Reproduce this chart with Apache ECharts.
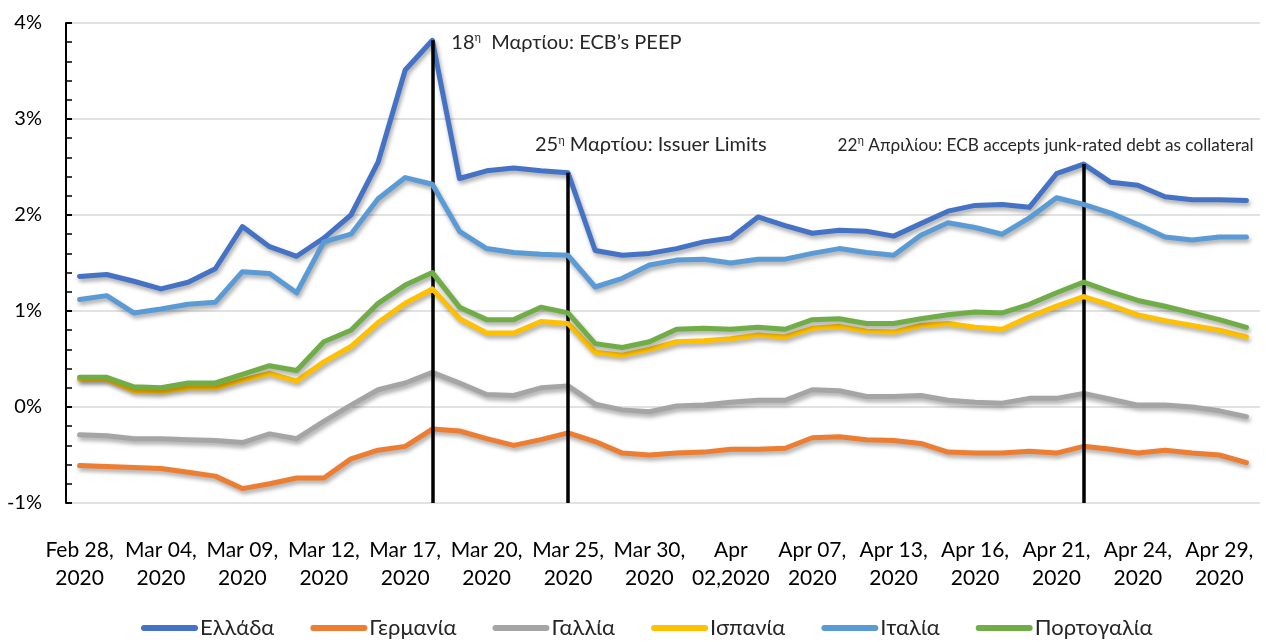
<!DOCTYPE html>
<html>
<head>
<meta charset="utf-8">
<script src="https://cdn.jsdelivr.net/npm/echarts@6/dist/echarts.min.js"></script>
<style>
html,body{margin:0;padding:0;background:#fff;}
#chart{width:1266px;height:642px;}
</style>
</head>
<body>
<div id="chart"></div>
<script>
// ---- DATA ----
const categories = [
  "Feb 28,\n2020",
  "Mar 02,\n2020","Mar 03,\n2020","Mar 04,\n2020","Mar 05,\n2020","Mar 06,\n2020",
  "Mar 09,\n2020","Mar 10,\n2020","Mar 11,\n2020","Mar 12,\n2020","Mar 13,\n2020",
  "Mar 16,\n2020","Mar 17,\n2020","Mar 18,\n2020","Mar 19,\n2020","Mar 20,\n2020",
  "Mar 23,\n2020","Mar 24,\n2020","Mar 25,\n2020","Mar 26,\n2020","Mar 27,\n2020",
  "Mar 30,\n2020","Mar 31,\n2020","Apr 01,\n2020","Apr\n02,2020","Apr 03,\n2020",
  "Apr 06,\n2020","Apr 07,\n2020","Apr 08,\n2020","Apr 09,\n2020",
  "Apr 13,\n2020","Apr 14,\n2020","Apr 15,\n2020","Apr 16,\n2020","Apr 17,\n2020",
  "Apr 20,\n2020","Apr 21,\n2020","Apr 22,\n2020","Apr 23,\n2020","Apr 24,\n2020",
  "Apr 27,\n2020","Apr 28,\n2020","Apr 29,\n2020","Apr 30,\n2020"
];
const seriesNames = ["Ελλάδα","Γερμανία","Γαλλία","Ισπανία","Ιταλία","Πορτογαλία"];
const greece = [1.36,1.38,1.31,1.23,1.30,1.44,1.88,1.67,1.57,1.76,2.00,2.55,3.51,3.82,2.38,2.46,2.49,2.46,2.44,1.63,1.58,1.60,1.65,1.72,1.76,1.98,1.89,1.81,1.84,1.83,1.78,1.91,2.04,2.10,2.11,2.08,2.43,2.53,2.34,2.31,2.19,2.16,2.16,2.15];
const germany = [-0.61,-0.62,-0.63,-0.64,-0.68,-0.72,-0.85,-0.80,-0.74,-0.74,-0.54,-0.45,-0.41,-0.23,-0.25,-0.33,-0.40,-0.34,-0.27,-0.36,-0.48,-0.50,-0.48,-0.47,-0.44,-0.44,-0.43,-0.32,-0.31,-0.34,-0.35,-0.38,-0.47,-0.48,-0.48,-0.46,-0.48,-0.41,-0.44,-0.48,-0.45,-0.48,-0.50,-0.58];
const france = [-0.29,-0.30,-0.33,-0.33,-0.34,-0.35,-0.37,-0.28,-0.33,-0.15,0.02,0.18,0.25,0.36,0.25,0.13,0.12,0.20,0.22,0.03,-0.03,-0.05,0.01,0.02,0.05,0.07,0.07,0.18,0.17,0.11,0.11,0.12,0.07,0.05,0.04,0.09,0.09,0.14,0.08,0.02,0.02,0.00,-0.04,-0.10];
const spain = [0.29,0.29,0.17,0.16,0.20,0.20,0.28,0.35,0.27,0.47,0.63,0.88,1.08,1.23,0.92,0.77,0.77,0.89,0.87,0.57,0.54,0.60,0.68,0.69,0.71,0.75,0.73,0.82,0.84,0.79,0.78,0.85,0.87,0.83,0.81,0.94,1.05,1.15,1.06,0.96,0.90,0.85,0.80,0.73];
const italy = [1.12,1.16,0.98,1.02,1.07,1.09,1.41,1.39,1.19,1.72,1.80,2.17,2.39,2.32,1.83,1.65,1.61,1.59,1.58,1.25,1.34,1.48,1.53,1.54,1.50,1.54,1.54,1.60,1.65,1.61,1.58,1.79,1.92,1.87,1.80,1.97,2.18,2.11,2.02,1.90,1.77,1.74,1.77,1.77];
const portugal = [0.31,0.31,0.21,0.20,0.25,0.25,0.34,0.43,0.38,0.68,0.80,1.08,1.27,1.40,1.04,0.91,0.91,1.04,0.98,0.66,0.62,0.68,0.81,0.82,0.81,0.83,0.81,0.91,0.92,0.87,0.87,0.92,0.96,0.99,0.98,1.07,1.19,1.30,1.20,1.11,1.05,0.98,0.91,0.83];
const yTicks = {min: -1, max: 4, interval: 1};
// event markers: category, day number, rest of text
const eventCats = ["Mar 18,\n2020","Mar 25,\n2020","Apr 22,\n2020"];
const eventDay = ["18","25","22"];
const eventText = ["  Μαρτίου: ECB’s PEEP"," Μαρτίου: Issuer Limits"," Απριλίου: ECB accepts junk-rated debt as collateral"];

// ---- STYLE ----
const colors = ["#4472C4","#ED7D31","#A5A5A5","#FFC000","#5B9BD5","#70AD47"];
const FONT = 'Lato, "Noto Sans", sans-serif';
const labelOffsets = [[19, 2], [-33, -28], [-246, -19]];
const labelFont = [20, 20, 17.2];

const chart = echarts.init(document.getElementById('chart'), null, {renderer: 'canvas'});
const allData = [greece, germany, france, spain, italy, portugal];

const eventIdx = eventCats.map(c => categories.indexOf(c));
const markLineData = eventIdx.map(i => [
  {coord: [i, greece[i]]},
  {coord: [i, yTicks.min]}
]);
const markPointData = eventIdx.map((i, k) => ({
  coord: [i, greece[i]],
  symbol: 'circle', symbolSize: 1,
  itemStyle: {color: 'rgba(0,0,0,0)'},
  label: {
    show: true, position: 'inside', align: 'left', verticalAlign: 'middle',
    offset: labelOffsets[k],
    formatter: '{n|' + eventDay[k] + '}{s|η}{t|' + eventText[k] + '}',
    rich: {
      n: {fontSize: labelFont[k], fontFamily: FONT, color: '#262626'},
      s: {fontSize: 11, fontFamily: FONT, color: '#262626', padding: [0, 0, 9, 0]},
      t: {fontSize: labelFont[k], fontFamily: FONT, color: '#262626'}
    }
  }
}));

const series = seriesNames.map((name, k) => {
  const s = {
    name: name,
    type: 'line',
    data: allData[k],
    showSymbol: false,
    symbol: 'none',
    z: 2 + k,
    lineStyle: {
      width: 5, color: colors[k], cap: 'round', join: 'round',
      shadowColor: 'rgba(0,0,0,0.35)', shadowBlur: 4, shadowOffsetX: 1.5, shadowOffsetY: 3
    },
    itemStyle: {color: colors[k]},
    emphasis: {disabled: true},
    animation: false
  };
  if (k === 0) {
    s.markLine = {
      silent: true, symbol: ['none','none'], animation: false,
      lineStyle: {color: '#000', width: 3.5, type: 'solid'},
      label: {show: false},
      emphasis: {disabled: true},
      data: markLineData
    };
    s.markPoint = {silent: true, animation: false, data: markPointData};
  }
  return s;
});

const option = {
  backgroundColor: '#fff',
  animation: false,
  color: colors,
  grid: {left: 66, right: 6, top: 23, bottom: 139},
  legend: {
    data: seriesNames.map((n, k) => ({name: n, itemStyle: {color: colors[k], shadowBlur: 0, shadowOffsetX: 0, shadowOffsetY: 0}})),
    top: 617, left: 141,
    icon: 'path://M3 0H54A3 3 0 0 1 54 6H3A3 3 0 0 1 3 0Z',
    itemWidth: 57, itemHeight: 6, itemGap: 36,
    padding: 0,
    textStyle: {fontSize: 22, fontFamily: FONT, color: '#262626', lineHeight: 22, padding: [0, 0, 0, -3]}
  },
  xAxis: {
    type: 'category',
    data: categories,
    boundaryGap: true,
    axisLine: {show: false},
    axisTick: {show: false},
    splitLine: {show: false},
    axisLabel: {
      interval: 2, margin: 33, fontSize: 21, lineHeight: 28,
      fontFamily: FONT, color: '#000'
    }
  },
  yAxis: {
    type: 'value',
    min: yTicks.min, max: yTicks.max, interval: yTicks.interval,
    axisLine: {show: true, lineStyle: {color: '#000', width: 2}},
    axisTick: {show: true, inside: true, length: 6, lineStyle: {color: '#000', width: 2}},
    minorTick: {show: true, splitNumber: 5, length: 6, lineStyle: {color: '#000', width: 1.5}},
    splitLine: {show: true, lineStyle: {color: '#d9d9d9', width: 1.5}},
    axisLabel: {formatter: '{value}%', fontSize: 20, margin: 24, fontFamily: FONT, color: '#000'}
  },
  series: series
};
chart.setOption(option);
</script>
</body>
</html>
